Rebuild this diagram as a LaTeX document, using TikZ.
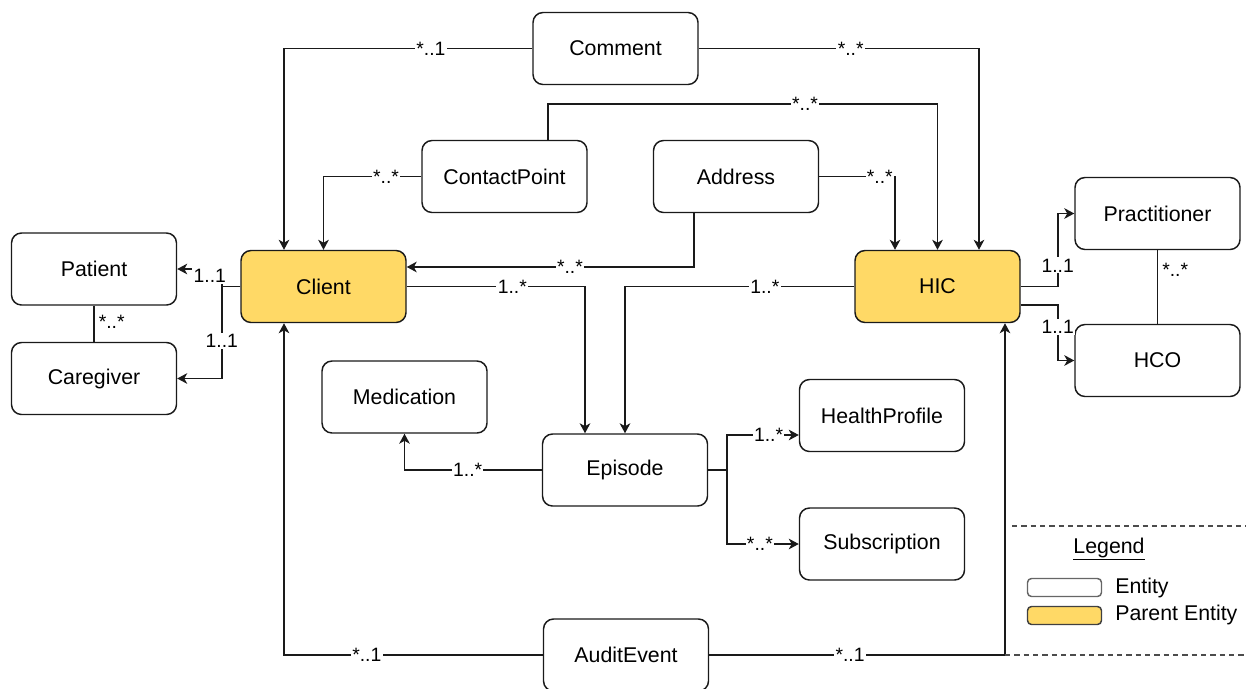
\documentclass[tikz,border=0pt]{standalone}
\usepackage{fontspec}
\setmainfont{Liberation Sans}
\usetikzlibrary{arrows.meta,calc}
\definecolor{parentfill}{HTML}{FFD966}
\definecolor{edgeline}{HTML}{1A1A1A}
\begin{document}
\begin{tikzpicture}[x=0.75pt,y=-0.75pt,
  entity/.style={draw=edgeline, line width=1.1pt, rounded corners=7.5pt, fill=white,
    minimum width=123.75pt, minimum height=54pt, inner sep=0pt,
    font=\fontsize{16}{19}\selectfont},
  parent/.style={entity, fill=parentfill},
  conn/.style={draw=edgeline, line width=1.15pt, -{Stealth[length=7.5pt,width=8pt,inset=2.2pt]}},
  link/.style={draw=edgeline, line width=1.15pt},
  lbl/.style={fill=white, inner sep=1pt, font=\fontsize{14.5}{17}\selectfont},
  legbox/.style={draw=black!60, line width=1.1pt, rounded corners=3pt, fill=white,
    minimum width=55.5pt, minimum height=13.5pt, inner sep=0pt},
  legtext/.style={anchor=west, inner sep=0pt, font=\fontsize{16}{19}\selectfont},
  legrule/.style={draw=black!70, line width=1pt, dash pattern=on 4pt off 3pt},
]
\useasboundingbox (0,0) rectangle (1246,689);

% entities
\node[entity] (comment)       at (615.5,48.5)  {Comment};
\node[entity] (contact)       at (504.5,176.5) {ContactPoint};
\node[entity] (address)       at (736,176.5)   {Address};
\node[entity] (patient)       at (94,269)      {Patient};
\node[entity] (caregiver)     at (94,378.5)    {Caregiver};
\node[parent] (client)        at (323.5,286.5) {Client};
\node[parent] (hic)           at (937.5,286.5) {HIC};
\node[entity] (practitioner)  at (1157.5,213.5){Practitioner};
\node[entity] (hco)           at (1157.5,360.5){HCO};
\node[entity] (medication)    at (404.5,397)   {Medication};
\node[entity] (episode)       at (625,470)     {Episode};
\node[entity] (healthprofile) at (882,415.5)   {HealthProfile};
\node[entity] (subscription)  at (882,544)     {Subscription};
\node[entity] (audit)         at (626,655)     {AuditEvent};

% associations towards Client and HIC
\draw[conn] (comment.west) -| ($(client.north)+(-39.5,0)$)
  node[lbl,pos=0.204] (lcc) {*..1};
\draw[conn] (comment.east) -| ($(hic.north)+(41.5,0)$)
  node[lbl,pos=0.271] (lch) {*..*};
\draw[conn] (contact.west) -| (client.north)
  node[lbl,pos=0.18] (lpc) {*..*};
\draw[conn] ($(contact.north)+(43.5,0)$) |- ($(hic.north)+(0,-146)$)
  node[lbl,pos=0.83] (lph) {*..*} -- (hic.north);
\draw[conn] (address.east) -| ($(hic.north)+(-42.5,0)$)
  node[lbl,pos=0.4] (lah) {*..*};
\draw[conn] ($(address.south)+(-42,0)$) |- ($(client.east)+(0,-19.5)$)
  node[lbl,pos=0.716] (lac) {*..*};
\draw[conn] (audit.west) -| ($(client.south)+(-39.5,0)$)
  node[lbl,pos=0.34] (luc) {*..1};
\draw[conn] (audit.east) -| ($(hic.south)+(67.5,0)$)
  node[lbl,pos=0.238] (luh) {*..1};

% Client and HIC to Episode
\draw[conn] (client.east) -| ($(episode.north)+(-40,0)$)
  node[lbl,pos=0.296] (lce) {1..*};
\draw[conn] (hic.west) -| (episode.north)
  node[lbl,pos=0.195] (lhe) {1..*};

% Client to Patient and Caregiver
\draw[conn] (client.west) -- ++(-18.5,0) |- (patient.east)
  node[lbl,pos=0.3,xshift=-9pt] (lcp) {1..1};
\draw[conn] (client.west) -- ++(-18.5,0) |- (caregiver.east)
  node[lbl,pos=0.296] (lcg) {1..1};
\draw[link] (patient.south) -- (caregiver.north)
  node[lbl,anchor=west,pos=0.44,xshift=2pt] (lpg) {*..*};

% HIC to Practitioner and HCO
\draw[conn] (hic.east) -- ++(37,0) |- (practitioner.west)
  node[lbl,pos=0.144] (lhp) {1..1};
\draw[conn] ($(hic.east)+(0,18.5)$) -- ++(37,0) |- (hco.west)
  node[lbl,pos=0.2] (lho) {1..1};
\draw[link] (practitioner.south) -- (hco.north)
  node[lbl,anchor=west,pos=0.26,xshift=2pt] (lpo) {*..*};

% Episode details
\draw[conn] (episode.west) -| (medication.south)
  node[lbl,pos=0.27] (lem) {1..*};
\draw[conn] (episode.east) -- ++(18.5,0) |- ($(healthprofile.west)+(0,19.5)$)
  node[lbl,pos=0.79] (leh) {1..*};
\draw[conn] (episode.east) -- ++(18.5,0) |- (subscription.west)
  node[lbl,pos=0.73] (les) {*..*};

% legend
\draw[legrule] (1012,526) -- (1246,526);
\node[inner sep=0pt, font=\fontsize{16}{19}\selectfont] (legtitle) at (1109,549) {\underline{Legend}};
\node[legbox] (legentity) at (1064.5,587.5) {};
\node[legbox, fill=parentfill, draw=black!75] (legparent) at (1064.5,615.5) {};
\node[legtext] (legentitytext) at (1115,588) {Entity};
\node[legtext] (legparenttext) at (1115,615) {Parent Entity};
\draw[legrule] (1005,655) -- (1246,655);
\end{tikzpicture}
\end{document}
